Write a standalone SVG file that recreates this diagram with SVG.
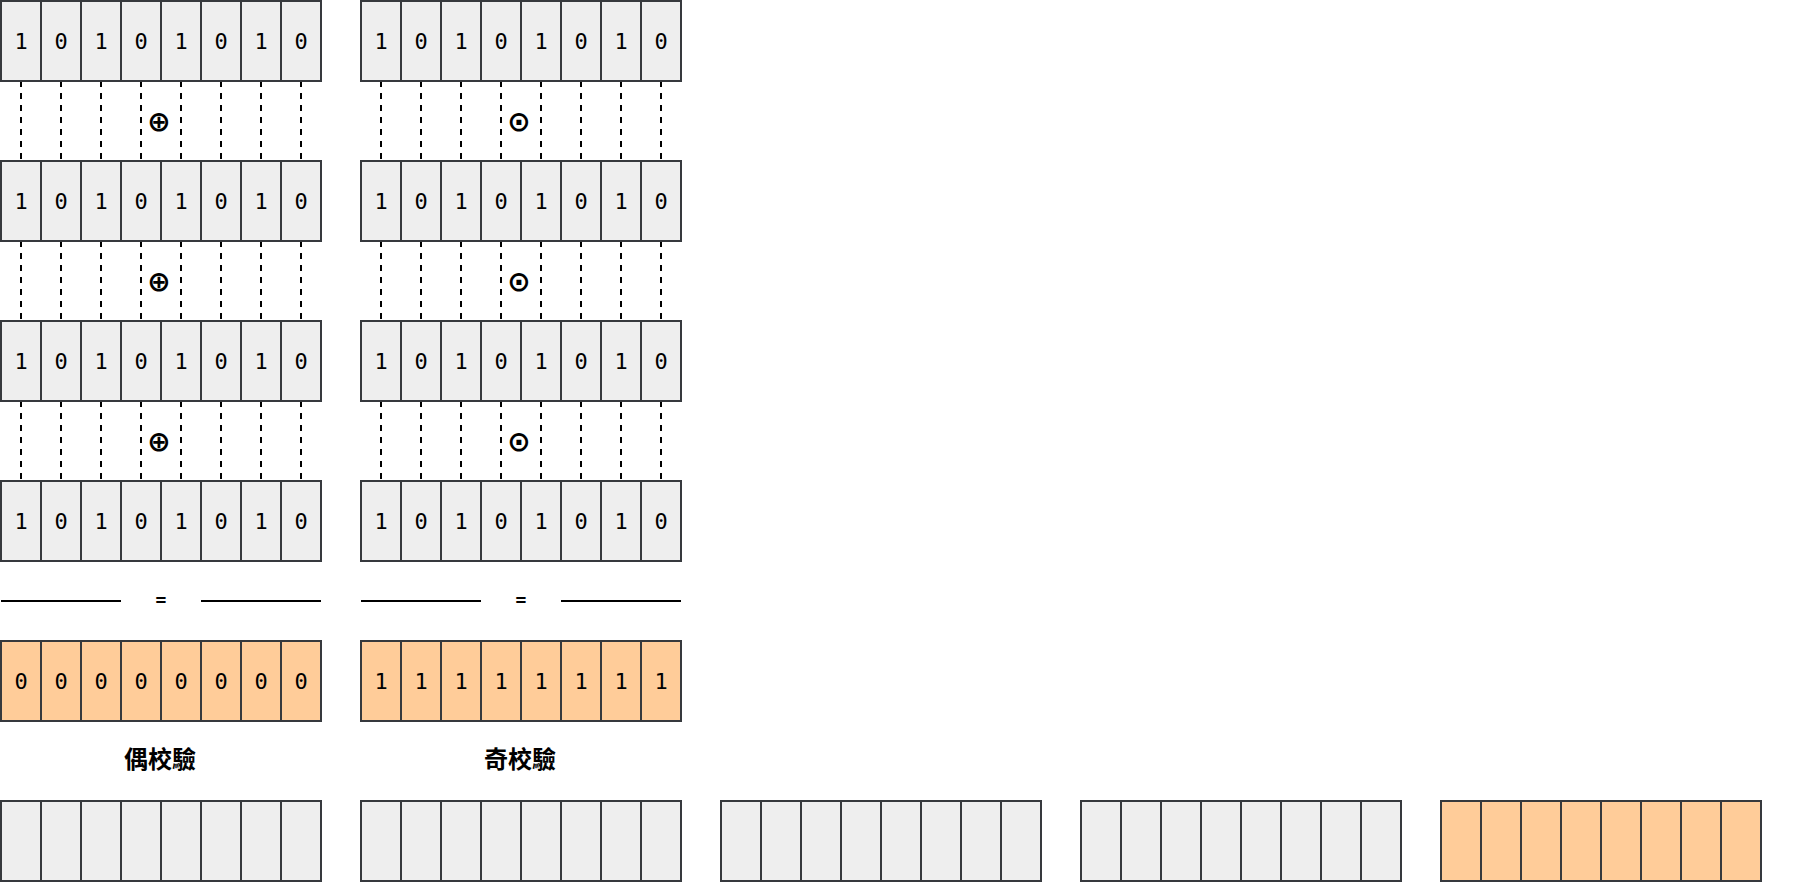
<svg xmlns="http://www.w3.org/2000/svg" width="1802" height="882" viewBox="0 0 1802 882">
<style>
.g{fill:#eeeeee;stroke:#36393d;stroke-width:2}
.o{fill:#ffcc99;stroke:#36393d;stroke-width:2}
.d{font-family:"DejaVu Sans Mono","Liberation Mono",monospace;font-size:22px;fill:#000;text-anchor:middle;dominant-baseline:central}
.c{stroke:#000;stroke-width:2;stroke-dasharray:6 6;fill:none}
.h{stroke:#000;stroke-width:2;fill:none}
.op{font-family:"DejaVu Sans","Noto Sans",sans-serif;font-size:28px;font-weight:bold;fill:#000;text-anchor:middle;dominant-baseline:central}
.eq{font-family:"DejaVu Sans Mono",monospace;font-size:18px;font-weight:bold;fill:#000;text-anchor:middle;dominant-baseline:central}
.lb{font-family:"Liberation Sans","Noto Sans CJK TC",sans-serif;font-size:24px;font-weight:bold;fill:#000;text-anchor:middle;dominant-baseline:central}
</style>
<defs>
<g id="grow">
<rect class="g" x="0" y="0" width="40" height="80"/><rect class="g" x="40" y="0" width="40" height="80"/><rect class="g" x="80" y="0" width="40" height="80"/><rect class="g" x="120" y="0" width="40" height="80"/><rect class="g" x="160" y="0" width="40" height="80"/><rect class="g" x="200" y="0" width="40" height="80"/><rect class="g" x="240" y="0" width="40" height="80"/><rect class="g" x="280" y="0" width="40" height="80"/>
</g>
<g id="orow">
<rect class="o" x="0" y="0" width="40" height="80"/><rect class="o" x="40" y="0" width="40" height="80"/><rect class="o" x="80" y="0" width="40" height="80"/><rect class="o" x="120" y="0" width="40" height="80"/><rect class="o" x="160" y="0" width="40" height="80"/><rect class="o" x="200" y="0" width="40" height="80"/><rect class="o" x="240" y="0" width="40" height="80"/><rect class="o" x="280" y="0" width="40" height="80"/>
</g>
<g id="bits">
<text class="d" x="20" y="40">1</text><text class="d" x="60" y="40">0</text><text class="d" x="100" y="40">1</text><text class="d" x="140" y="40">0</text><text class="d" x="180" y="40">1</text><text class="d" x="220" y="40">0</text><text class="d" x="260" y="40">1</text><text class="d" x="300" y="40">0</text>
</g>
<g id="dash">
<line class="c" x1="20" y1="0" x2="20" y2="80"/><line class="c" x1="60" y1="0" x2="60" y2="80"/><line class="c" x1="100" y1="0" x2="100" y2="80"/><line class="c" x1="140" y1="0" x2="140" y2="80"/><line class="c" x1="180" y1="0" x2="180" y2="80"/><line class="c" x1="220" y1="0" x2="220" y2="80"/><line class="c" x1="260" y1="0" x2="260" y2="80"/><line class="c" x1="300" y1="0" x2="300" y2="80"/>
</g>
</defs>
<rect width="1802" height="882" fill="#ffffff"/>
<g id="connectors">
<use href="#dash" x="1" y="81"/><use href="#dash" x="1" y="241"/><use href="#dash" x="1" y="401"/>
<use href="#dash" x="361" y="81"/><use href="#dash" x="361" y="241"/><use href="#dash" x="361" y="401"/>
</g>
<g id="even-row1"><use href="#grow" x="1" y="1"/><use href="#bits" x="1" y="1"/></g>
<g id="even-row2"><use href="#grow" x="1" y="161"/><use href="#bits" x="1" y="161"/></g>
<g id="even-row3"><use href="#grow" x="1" y="321"/><use href="#bits" x="1" y="321"/></g>
<g id="even-row4"><use href="#grow" x="1" y="481"/><use href="#bits" x="1" y="481"/></g>
<g id="odd-row1"><use href="#grow" x="361" y="1"/><use href="#bits" x="361" y="1"/></g>
<g id="odd-row2"><use href="#grow" x="361" y="161"/><use href="#bits" x="361" y="161"/></g>
<g id="odd-row3"><use href="#grow" x="361" y="321"/><use href="#bits" x="361" y="321"/></g>
<g id="odd-row4"><use href="#grow" x="361" y="481"/><use href="#bits" x="361" y="481"/></g>
<g id="even-ops">
<text class="op" x="159" y="121">⊕</text><text class="op" x="159" y="281">⊕</text><text class="op" x="159" y="441">⊕</text>
</g>
<g id="odd-ops">
<text class="op" x="519" y="121">⊙</text><text class="op" x="519" y="281">⊙</text><text class="op" x="519" y="441">⊙</text>
</g>
<g id="even-eq">
<line class="h" x1="1" y1="601" x2="121" y2="601"/><line class="h" x1="201" y1="601" x2="321" y2="601"/>
<text class="eq" x="161" y="599">=</text>
</g>
<g id="odd-eq">
<line class="h" x1="361" y1="601" x2="481" y2="601"/><line class="h" x1="561" y1="601" x2="681" y2="601"/>
<text class="eq" x="521" y="599">=</text>
</g>
<g id="even-result"><use href="#orow" x="1" y="641"/>
<text class="d" x="21" y="681">0</text><text class="d" x="61" y="681">0</text><text class="d" x="101" y="681">0</text><text class="d" x="141" y="681">0</text><text class="d" x="181" y="681">0</text><text class="d" x="221" y="681">0</text><text class="d" x="261" y="681">0</text><text class="d" x="301" y="681">0</text>
</g>
<g id="odd-result"><use href="#orow" x="361" y="641"/>
<text class="d" x="381" y="681">1</text><text class="d" x="421" y="681">1</text><text class="d" x="461" y="681">1</text><text class="d" x="501" y="681">1</text><text class="d" x="541" y="681">1</text><text class="d" x="581" y="681">1</text><text class="d" x="621" y="681">1</text><text class="d" x="661" y="681">1</text>
</g>
<g id="even-label"><text class="lb" x="160" y="759">偶校驗</text></g>
<g id="odd-label"><text class="lb" x="520" y="759">奇校驗</text></g>
<g id="bottom-1"><use href="#grow" x="1" y="801"/></g>
<g id="bottom-2"><use href="#grow" x="361" y="801"/></g>
<g id="bottom-3"><use href="#grow" x="721" y="801"/></g>
<g id="bottom-4"><use href="#grow" x="1081" y="801"/></g>
<g id="bottom-5"><use href="#orow" x="1441" y="801"/></g>
</svg>
